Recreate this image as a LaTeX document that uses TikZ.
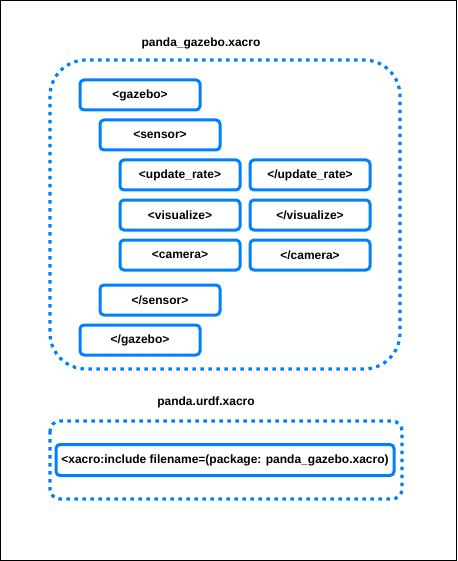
\documentclass[tikz,border=0pt]{standalone}
\usepackage{fontspec}
\setmainfont{Liberation Sans}
\definecolor{dblue}{HTML}{007FFF}
\begin{document}
\begin{tikzpicture}[x=1pt,y=-1pt,
  tagbox/.style={draw=dblue, line width=3pt, rounded corners=4pt, minimum width=120pt, minimum height=30pt, inner sep=0pt, font=\fontsize{12}{14}\selectfont\bfseries},
  dotbox/.style={draw=dblue, line width=3.2pt, dash pattern=on 3.5pt off 4.5pt},
  title/.style={font=\fontsize{12}{14}\selectfont\bfseries, inner sep=0pt}]
\useasboundingbox (0,0) rectangle (457,561);
\draw[line width=1pt] (0.5,0.5) rectangle (456.5,560.5);
\node[title] (t1) at (201,43) {panda\_gazebo.xacro};
\draw[dotbox, rounded corners=36pt] (50,60) rectangle (400,369);
\node[tagbox] (gz) at (140,95) {<gazebo>};
\node[tagbox] (sn) at (160,135) {<sensor>};
\node[tagbox] (ur) at (180,175) {<update\_rate>};
\node[tagbox] (urc) at (310,175) {</update\_rate>};
\node[tagbox] (vz) at (180,215) {<visualize>};
\node[tagbox] (vzc) at (310,215) {</visualize>};
\node[tagbox] (cm) at (180,255) {<camera>};
\node[tagbox] (cmc) at (310,255) {</camera>};
\node[tagbox] (snc) at (160,300) {</sensor>};
\node[tagbox] (gzc) at (140,340) {</gazebo>};
\node[title] (t2) at (206,402) {panda.urdf.xacro};
\draw[dotbox, rounded corners=10pt] (50,421) rectangle (402,499);
\node[tagbox, minimum width=338pt, minimum height=31pt] (inc) at (225,460) {<xacro:include filename=(package: panda\_gazebo.xacro)};
\end{tikzpicture}
\end{document}
